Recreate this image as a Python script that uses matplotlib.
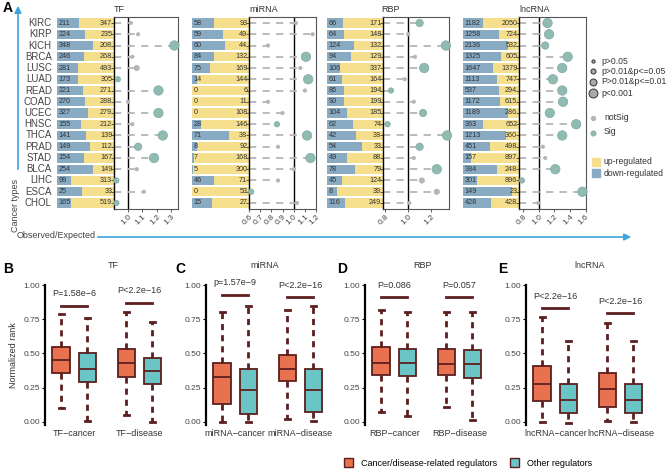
import numpy as np
import matplotlib
matplotlib.use('Agg')
from matplotlib import pyplot as plt
from matplotlib.patches import Patch

plt.rcParams['font.family'] = ['Liberation Sans', 'DejaVu Sans']

W, H = 669, 471

cancers = ['KIRC', 'KIRP', 'KICH', 'BRCA', 'LUSC', 'LUAD', 'READ', 'COAD', 'UCEC',
           'HNSC', 'THCA', 'PRAD', 'STAD', 'BLCA', 'LIHC', 'ESCA', 'CHOL']

# panel A data: down / up counts, observed/expected, p-level (1..4), significant?
tf_down = [211, 224, 348, 246, 281, 173, 221, 270, 327, 155, 141, 149, 154, 254, 99, 25, 165]
tf_up = [347, 235, 208, 268, 493, 305, 271, 288, 279, 212, 139, 112, 167, 149, 313, 33, 519]
tf_ratio = [1.02, 1.07, 1.32, 1.03, 1.06, 0.93, 1.21, 1.00, 1.21, 1.03, 1.24, 1.07, 1.18, 1.06, 0.92, 1.11, 0.92]
tf_plev = [1, 1, 4, 1, 2, 2, 4, 1, 4, 1, 4, 3, 4, 1, 2, 1, 2]
tf_sig = [0, 0, 1, 0, 0, 1, 1, 0, 1, 0, 1, 1, 1, 0, 1, 0, 1]

mi_down = [58, 59, 60, 84, 75, 14, 0, 0, 0, 28, 71, 8, 7, 5, 46, 0, 15]
mi_up = [93, 49, 44, 132, 169, 144, 6, 11, 108, 146, 38, 92, 168, 300, 71, 53, 27]
mi_ratio = [1.02, 1.17, 0.77, 1.11, 1.06, 1.13, 1.10, 0.77, 0.90, 0.85, 1.12, 0.86, 1.15, 1.00, 0.86, 0.62, 1.03]
mi_plev = [1, 1, 1, 4, 1, 4, 1, 1, 1, 2, 4, 1, 4, 1, 1, 2, 1]
mi_sig = [0, 0, 0, 1, 0, 1, 0, 0, 0, 1, 1, 0, 1, 0, 0, 1, 0]

rbp_down = [66, 64, 124, 94, 106, 61, 86, 90, 104, 62, 42, 54, 49, 78, 45, 8, 116]
rbp_up = [171, 148, 132, 129, 337, 164, 194, 199, 185, 74, 38, 33, 88, 79, 124, 39, 249]
rbp_ratio = [1.10, 1.00, 1.33, 1.06, 1.14, 0.97, 0.85, 1.05, 1.13, 0.82, 1.34, 1.10, 1.05, 1.25, 1.12, 1.25, 1.01]
rbp_plev = [3, 1, 4, 1, 4, 1, 2, 1, 3, 2, 4, 3, 1, 4, 2, 2, 1]
rbp_sig = [1, 0, 1, 0, 1, 0, 1, 0, 1, 1, 1, 1, 0, 1, 0, 0, 0]

lnc_down = [1182, 1258, 2136, 1325, 1647, 1113, 537, 1172, 1189, 363, 1213, 451, 157, 384, 301, 149, 428]
lnc_up = [2050, 724, 532, 605, 1379, 747, 294, 615, 286, 652, 360, 498, 897, 248, 896, 23, 428]
lnc_ratio = [1.11, 1.13, 1.08, 1.37, 1.30, 1.18, 1.30, 1.31, 1.14, 1.48, 1.30, 1.05, 1.08, 1.21, 0.78, 1.56, 0.99]
lnc_plev = [4, 4, 3, 4, 4, 4, 4, 4, 4, 4, 4, 1, 1, 4, 2, 4, 1]
lnc_sig = [1, 1, 1, 1, 1, 1, 1, 1, 1, 1, 1, 0, 0, 1, 1, 1, 0]

# panels B-E: box stats (whislo, q1, med, q3, whishi), order: cancer-rel, other, disease-rel, other
box_titles = ['TF', 'miRNA', 'RBP', 'lncRNA']
box_groups = [['TF−cancer', 'TF−disease'], ['miRNA−cancer', 'miRNA−disease'],
              ['RBP−cancer', 'RBP−disease'], ['lncRNA−cancer', 'lncRNA−disease']]
tf_box = [[0.10, 0.36, 0.45, 0.55, 0.79], [0.01, 0.29, 0.39, 0.50, 0.76],
          [0.05, 0.33, 0.43, 0.53, 0.80], [0.0, 0.275, 0.37, 0.47, 0.73]]
mi_box = [[0.0, 0.13, 0.33, 0.43, 0.80], [0.0, 0.055, 0.23, 0.385, 0.85],
          [0.025, 0.30, 0.39, 0.49, 0.82], [0.01, 0.07, 0.23, 0.385, 0.85]]
rbp_box = [[0.07, 0.34, 0.43, 0.55, 0.82], [0.046, 0.335, 0.43, 0.53, 0.80],
           [0.107, 0.34, 0.42, 0.53, 0.80], [0.015, 0.32, 0.42, 0.525, 0.80]]
lnc_box = [[0.0, 0.153, 0.275, 0.41, 0.77], [-0.005, 0.065, 0.16, 0.28, 0.59],
           [0.01, 0.11, 0.24, 0.36, 0.72], [0.0, 0.065, 0.16, 0.28, 0.59]]
pvals = [['P=1.58e−6', 'P<2.2e−16'], ['p=1.57e−9', 'P<2.2e−16'],
         ['P=0.086', 'P=0.057'], ['P<2.2e−16', 'P<2.2e−16']]
sig_y = [[0.85, 0.87], [0.93, 0.91], [0.91, 0.91], [0.83, 0.795]]

yellow = '#F5DF8C'
blue = '#88AAC3'
teal = '#90BBB2'
grey = '#B5B5B5'
orange = '#E8714F'
cyan = '#6BC4C6'
brown = '#5C1F1F'
arrow_c = '#3DA5DA'
size_map = {1: 6, 2: 15, 3: 28, 4: 46}


def rect(x0, y0, x1, y1):
    return [x0 / W, 1 - y1 / H, (x1 - x0) / W, (y1 - y0) / H]


fig = plt.figure(figsize=(W / 100, H / 100), dpi=100)

ov = fig.add_axes([0, 0, 1, 1])
ov.set_xlim(0, W)
ov.set_ylim(H, 0)
ov.axis('off')

n = len(cancers)
yy = np.arange(n)
top, bot = 17.4, 208.6


def draw_group(down, up, ratio, plev, sig, bx, dx, xlim, ticks, first=False):
    down = np.array(down, float)
    up = np.array(up, float)
    frac = down / (down + up)
    axb = fig.add_axes(rect(bx[0], top, bx[1], bot))
    axb.barh(yy, frac, height=0.82, color=blue)
    axb.barh(yy, 1 - frac, left=frac, height=0.82, color=yellow)
    axb.set_xlim(0, 1)
    axb.set_ylim(n - 0.5, -0.5)
    axb.axis('off')
    for i in range(n):
        axb.text(0.03, i, '%d' % down[i], fontsize=5.2, color='#333333', va='center', ha='left')
        axb.text(0.97, i, '%d' % up[i], fontsize=5.2, color='#333333', va='center', ha='right')
        if first:
            axb.text(-0.09, i, cancers[i], fontsize=7, color='#444444', va='center', ha='right')

    ax = fig.add_axes(rect(dx[0], top, dx[1], bot))
    ax.set_xlim(xlim)
    ax.set_ylim(n - 0.5, -0.5)
    ax.axvline(1.0, color='black', lw=1.0, zorder=1)
    ax.hlines(yy, xlim[0], ratio, colors=grey, linestyles=(0, (4, 3.5)), lw=1.3, zorder=2)
    sig = np.array(sig)
    cols = [teal if s else grey for s in sig]
    edges = ['#7FAAA2' if s else grey for s in sig]
    ax.scatter(ratio, yy, s=[size_map[p] for p in plev], c=cols, edgecolors=edges,
               linewidths=0.5, zorder=3, clip_on=False)
    ax.set_xticks(ticks)
    ax.set_xticklabels(['%.1f' % t for t in ticks], rotation=45, ha='right',
                       rotation_mode='anchor', fontsize=6, color='#444444')
    ax.set_yticks(yy)
    ax.tick_params(axis='y', length=2, labelleft=False, width=0.6, color='#444444')
    ax.tick_params(axis='x', length=2, width=0.6, color='#444444', pad=1.5)
    for s in ax.spines.values():
        s.set_color('#555555')
        s.set_linewidth(0.8)
    ax.spines['left'].set_color('black')
    ax.spines['left'].set_linewidth(1.0)
    ax.patch.set_alpha(0)


draw_group(tf_down, tf_up, tf_ratio, tf_plev, tf_sig, (57, 114), (114, 178),
           (0.9034, 1.345), [1.0, 1.1, 1.2, 1.3], first=True)
draw_group(mi_down, mi_up, mi_ratio, mi_plev, mi_sig, (192, 249), (249, 316),
           (0.6, 1.2), [0.6, 0.7, 0.8, 0.9, 1.0, 1.1, 1.2])
draw_group(rbp_down, rbp_up, rbp_ratio, rbp_plev, rbp_sig, (327, 383), (383, 449),
           (0.78, 1.357), [0.8, 1.0, 1.2])
draw_group(lnc_down, lnc_up, lnc_ratio, lnc_plev, lnc_sig, (463, 519), (519, 585.5),
           (0.742, 1.6), [0.8, 1.0, 1.2, 1.4, 1.6])

# panel A titles, axes arrows and labels
for t, x in zip(['TF', 'miRNA', 'RBP', 'lncRNA'], [119, 264, 390, 535]):
    ov.text(x, 9, t, fontsize=6.5, color='#333333', ha='center', va='center')
ov.text(3, 8, 'A', fontsize=10, fontweight='bold', ha='left', va='center')
ov.annotate('', xy=(18, 3), xytext=(18, 172),
            arrowprops=dict(arrowstyle='-|>', color=arrow_c, lw=1.2, mutation_scale=10))
ov.annotate('', xy=(634, 237), xytext=(95, 237),
            arrowprops=dict(arrowstyle='-|>', color=arrow_c, lw=1.2, mutation_scale=10))
ov.text(15, 206, 'Cancer types', rotation=90, fontsize=6.5, color='#444444', ha='center', va='center')
ov.text(17, 236, 'Observed/Expected', fontsize=6.5, color='#444444', ha='left', va='center')

# panel A legends
leg_lab = ['p>0.05', 'p>0.01&p<=0.05', 'P>0.01&p<=0.01', 'p<0.001']
for k, (lab, yv) in enumerate(zip(leg_lab, [61, 71, 82, 93])):
    ov.scatter([593], [yv], s=size_map[k + 1] * 0.9, c='#A8A8A8', edgecolors='#333333', linewidths=0.7)
    ov.text(601, yv, lab, fontsize=6.2, color='#333333', va='center')
ov.scatter([593], [118], s=8, c=grey, edgecolors=grey)
ov.text(604, 118, 'notSig', fontsize=6.2, color='#333333', va='center')
ov.scatter([593], [133], s=14, c=teal, edgecolors='#7FAAA2', linewidths=0.5)
ov.text(604, 132, 'Sig', fontsize=6.2, color='#333333', va='center')
ov.scatter([596], [162], s=28, marker='s', c=yellow)
ov.text(604, 162, 'up-regulated', fontsize=6.2, color='#333333', va='center')
ov.scatter([596], [173], s=28, marker='s', c=blue)
ov.text(604, 173, 'down-regulated', fontsize=6.2, color='#333333', va='center')

# panels B-E
box_data = [tf_box, mi_box, rbp_box, lnc_box]
lefts = [45, 206, 365, 526]
letters = ['B', 'C', 'D', 'E']
letter_x = [3, 175, 337, 498]
title_x = [113, 265, 422, 590]
pos = [0.8, 1.2, 1.8, 2.2]
for k in range(4):
    x0 = lefts[k]
    ax = fig.add_axes(rect(x0, 285, x0 + 127, 424.7))
    stats = []
    for b in box_data[k]:
        stats.append(dict(whislo=b[0], q1=b[1], med=b[2], q3=b[3], whishi=b[4], fliers=[]))
    bp = ax.bxp(stats, positions=pos, widths=0.27, patch_artist=True, showfliers=False,
                boxprops=dict(edgecolor=brown, linewidth=1.3),
                medianprops=dict(color=brown, linewidth=1.3),
                whiskerprops=dict(color=brown, linewidth=2.0, linestyle=(0, (2.2, 1.8))),
                capprops=dict(color=brown, linewidth=2.0), capwidths=0.08)
    for j, patch in enumerate(bp['boxes']):
        patch.set_facecolor(orange if j % 2 == 0 else cyan)
    for g in range(2):
        ys = sig_y[k][g]
        ax.plot([pos[2 * g], pos[2 * g + 1]], [ys, ys], color=brown, lw=2.0)
        ax.text((pos[2 * g] + pos[2 * g + 1]) / 2, ys + 0.055, pvals[k][g], fontsize=6.5,
                color='#333333', ha='center', va='bottom')
    ax.set_xlim(0.55, 2.5)
    ax.set_ylim(-0.02, 1.0)
    ax.set_yticks([0, 0.25, 0.5, 0.75, 1.0])
    ax.set_yticklabels(['0.00', '0.25', '0.50', '0.75', '1.00'], fontsize=6, color='#444444')
    ax.set_xticks([1, 2])
    ax.set_xticklabels(box_groups[k], fontsize=6.5, color='#333333')
    ax.tick_params(axis='x', length=0, pad=3)
    ax.tick_params(axis='y', length=2, width=0.8, pad=1.5)
    for s in ['top', 'right', 'bottom']:
        ax.spines[s].set_visible(False)
    ax.spines['left'].set_linewidth(1.6)
    ax.patch.set_alpha(0)
    if k == 0:
        ax.set_ylabel('Normalized rank', fontsize=6.5, color='#333333', labelpad=4)
    ov.text(title_x[k], 265, box_titles[k], fontsize=6.5, color='#333333', ha='center', va='center')
    ov.text(letter_x[k], 269, letters[k], fontsize=10, fontweight='bold', ha='left', va='center')

handles = [Patch(facecolor=orange, edgecolor=brown, linewidth=1.0),
           Patch(facecolor=cyan, edgecolor=brown, linewidth=1.0)]
fig.legend(handles, ['Cancer/disease-related regulators', 'Other regulators'],
           loc='center', bbox_to_anchor=(468 / W, 1 - 463 / H), ncol=2, frameon=False,
           fontsize=6.5, handlelength=1.0, handleheight=1.0, columnspacing=1.5)

fig.savefig('out.png', dpi=100)
